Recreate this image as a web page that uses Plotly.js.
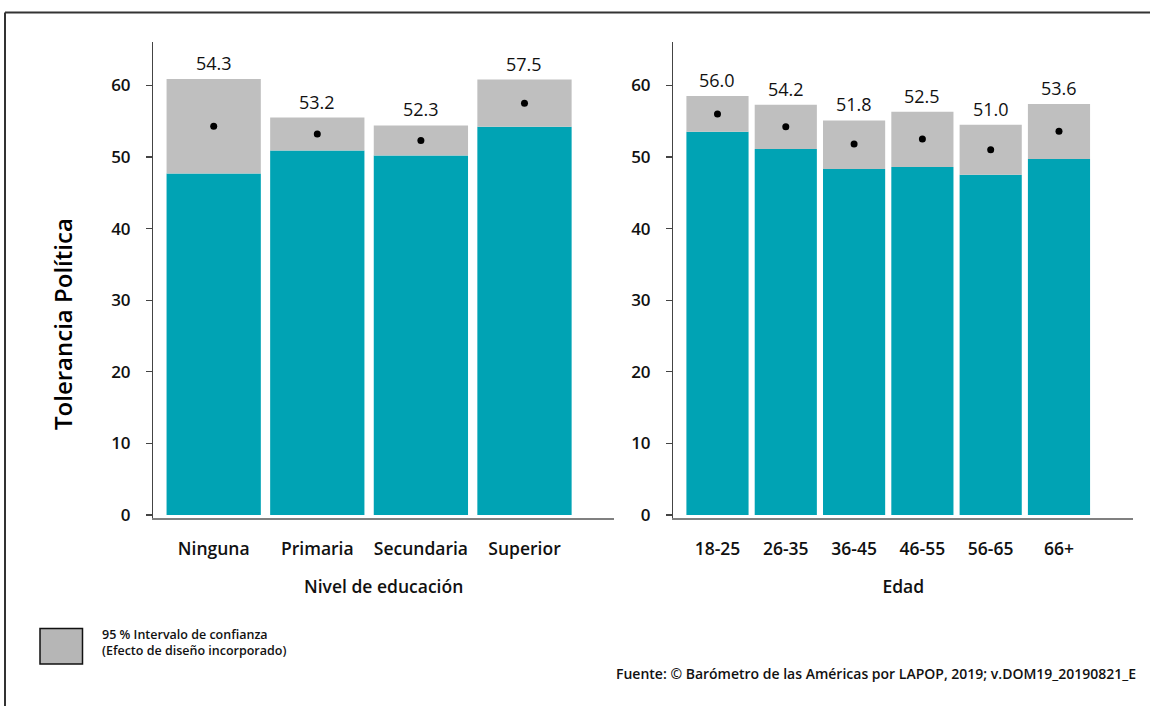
<!DOCTYPE html>
<html>
<head>
<meta charset="utf-8">
<script src="https://cdn.plot.ly/plotly-3.0.1.min.js"></script>
<style>html,body{margin:0;padding:0;background:#fff;}#chart{width:1150px;height:706px;}</style>
</head>
<body>
<div id="chart"></div>
<script>
// Panel 1: Nivel de educación
const eduCategories = ["Ninguna", "Primaria", "Secundaria", "Superior"];
const eduMean  = [54.3, 53.2, 52.3, 57.5];
const eduLower = [47.7, 50.9, 50.2, 54.2];
const eduUpper = [60.9, 55.5, 54.4, 60.8];

// Panel 2: Edad
const ageCategories = ["18-25", "26-35", "36-45", "46-55", "56-65", "66+"];
const ageMean  = [56.0, 54.2, 51.8, 52.5, 51.0, 53.6];
const ageLower = [53.5, 51.1, 48.3, 48.6, 47.5, 49.7];
const ageUpper = [58.5, 57.3, 55.1, 56.3, 54.5, 57.4];

const yTicks = [0, 10, 20, 30, 40, 50, 60];

const TEAL = "#00a3b4";
const GRAY = "#bfbfbf";
const FONT = "Open Sans, Noto Sans, sans-serif";

function panelTraces(cats, mean, lower, upper, xa, ya) {
  return [
    {type: "bar", x: cats, y: lower, base: 0, xaxis: xa, yaxis: ya,
     width: 0.91, marker: {color: TEAL, line: {width: 0}}, hoverinfo: "skip"},
    {type: "bar", x: cats, y: upper.map((u, i) => u - lower[i]), base: lower, xaxis: xa, yaxis: ya,
     width: 0.91, marker: {color: GRAY, line: {width: 0}}, hoverinfo: "skip"},
    {type: "scatter", mode: "markers", x: cats, y: mean, xaxis: xa, yaxis: ya,
     marker: {color: "#000", size: 7}, hoverinfo: "skip"}
  ];
}

const data = [
  ...panelTraces(eduCategories, eduMean, eduLower, eduUpper, "x", "y"),
  ...panelTraces(ageCategories, ageMean, ageLower, ageUpper, "x2", "y2")
];

function labelAnns(cats, mean, upper, xa, ya) {
  return cats.map((c, i) => ({
    x: c, y: upper[i], xref: xa, yref: ya, text: mean[i].toFixed(1),
    showarrow: false, yanchor: "bottom", yshift: 2,
    font: {family: FONT, size: 18, color: "#111"}
  }));
}

const yAxisBase = {
  range: [-0.35, 66.05], tickvals: yTicks, ticks: "outside", ticklen: 6, tickwidth: 1.3,
  tickcolor: "#444", showline: true, linecolor: "#444", linewidth: 1.3, showgrid: false,
  zeroline: false, ticklabelstandoff: 12,
  tickfont: {family: FONT, size: 17, color: "#111", weight: 600}
};
const xAxisBase = {
  showline: true, linecolor: "#808080", linewidth: 2.2, showgrid: false, zeroline: false,
  ticks: "", ticklabelstandoff: 14,
  tickfont: {family: FONT, size: 17.5, color: "#111", weight: 600}
};

const layout = {
  width: 1150, height: 706,
  margin: {l: 0, r: 0, t: 0, b: 0},
  paper_bgcolor: "#fff", plot_bgcolor: "rgba(0,0,0,0)",
  showlegend: false, barmode: "overlay",
  xaxis: Object.assign({}, xAxisBase, {domain: [153.3/1150, 614/1150], range: [-0.583, 3.864],
    anchor: "y", title: {text: "Nivel de educación", standoff: 22, font: {family: FONT, size: 17.5, color: "#111", weight: 600}}}),
  yaxis: Object.assign({}, yAxisBase, {domain: [1 - 517.5/706, 1 - 42/706], anchor: "x"}),
  xaxis2: Object.assign({}, xAxisBase, {domain: [673.3/1150, 1133.3/1150], range: [-0.647, 6.088],
    anchor: "y2", title: {text: "Edad", standoff: 22, font: {family: FONT, size: 17.5, color: "#111", weight: 600}}}),
  yaxis2: Object.assign({}, yAxisBase, {domain: [1 - 517.5/706, 1 - 42/706], anchor: "x2"}),
  annotations: [
    ...labelAnns(eduCategories, eduMean, eduUpper, "x", "y"),
    ...labelAnns(ageCategories, ageMean, ageUpper, "x2", "y2"),
    {xref: "paper", yref: "paper", x: 62/1150, y: 1 - 324/706, text: "Tolerancia Política",
     textangle: -90, showarrow: false, xanchor: "center", yanchor: "middle",
     font: {family: FONT, size: 24, color: "#000", weight: 600}},
    {xref: "paper", yref: "paper", x: 100/1150, y: 1 - 642/706, xanchor: "left", yanchor: "middle",
     align: "left", showarrow: false,
     text: "95 % Intervalo de confianza<br>(Efecto de diseño incorporado)",
     font: {family: FONT, size: 12.5, color: "#111", weight: 600}},
    {xref: "paper", yref: "paper", x: 1138/1150, y: 1 - 673/706, xanchor: "right", yanchor: "middle",
     showarrow: false,
     text: "Fuente: © Barómetro de las Américas por LAPOP, 2019; v.DOM19_20190821_E",
     font: {family: FONT, size: 14, color: "#111", weight: 600}}
  ],
  shapes: [
    {type: "line", xref: "paper", yref: "paper", x0: 5/1150, x1: 1, y0: 1 - 12.5/706, y1: 1 - 12.5/706,
     line: {color: "#333", width: 2}},
    {type: "line", xref: "paper", yref: "paper", x0: 5/1150, x1: 5/1150, y0: 0, y1: 1 - 12.5/706,
     line: {color: "#333", width: 2}},
    {type: "rect", xref: "paper", yref: "paper", x0: 40/1150, x1: 82.5/1150, y0: 1 - 664/706, y1: 1 - 628.5/706,
     fillcolor: "#b6b6b6", line: {color: "#111", width: 1.5}}
  ]
};

Plotly.newPlot("chart", data, layout, {displayModeBar: false, staticPlot: true});
</script>
</body>
</html>
